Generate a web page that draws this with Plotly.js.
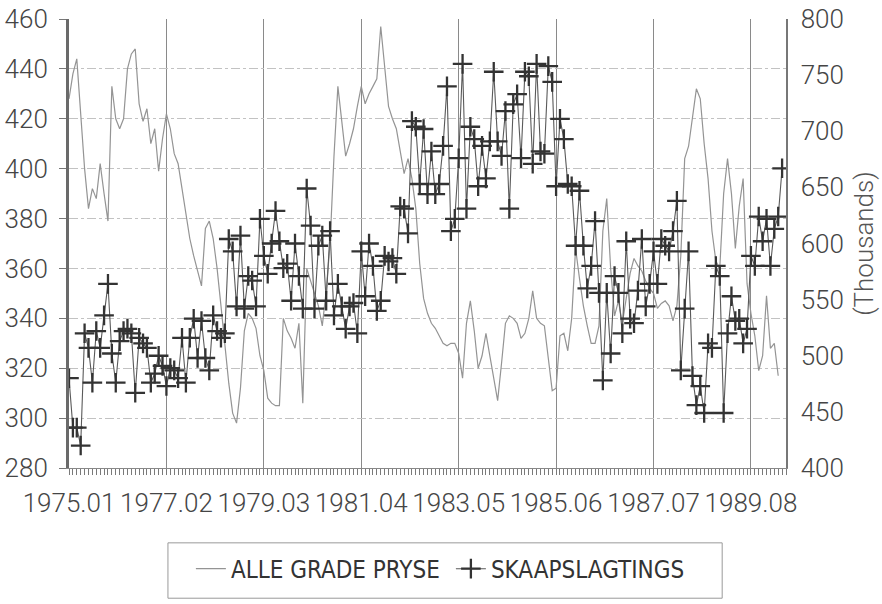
<!DOCTYPE html>
<html><head><meta charset="utf-8">
<script src="https://cdn.plot.ly/plotly-3.0.1.min.js"></script>
<style>html,body{margin:0;padding:0;background:#fff;} #chart{width:882px;height:604px;}</style>
</head><body><div id="chart"></div>
<script>
// Monthly periods 1975.01 ... (184 months)
const startYear = 1975;
const monthCount = 184;
const periods = [];
for (let i = 0; i < monthCount; i++) {
  const y = startYear + Math.floor(i / 12), m = i % 12 + 1;
  periods.push(y + '.' + String(m).padStart(2, '0'));
}
const tickLabels = ['1975.01','1977.02','1979.03','1981.04','1983.05','1985.06','1987.07','1989.08'];

// ALLE GRADE PRYSE (left axis)
const allePryse = [
 428,438,444,420,400,384,392,388,402,390,
 379,433,420,416,420,440,446,448,426,419,
 424,410,416,399,412,422,416,406,402,392,
 382,372,365,359,353,376,379,372,360,345,
 330,314,302,298,312,335,342,340,336,325,
 319,308,306,305,305,340,335,332,328,338,
 306,360,355,350,345,337,351,370,405,433,
 420,405,410,416,425,433,426,430,433,436,
 457,440,425,420,416,407,398,404,396,384,
 362,348,342,338,336,333,330,329,330,330,
 326,316,338,347,335,320,325,334,325,316,
 307,322,338,341,340,338,332,334,340,351,
 340,338,337,324,311,312,333,334,327,340,
 368,356,345,337,330,330,337,375,388,360,
 341,347,338,348,358,364,361,359,355,352,
 350,344,346,347,345,339,345,365,404,409,
 420,432,428,410,396,375,363,360,390,404,
 390,368,385,396,354,342,333,319,325,349,
 328,330,317
];

// SKAAPSLAGTINGS (right axis, thousands)
const skaapSlagtings = [
 480,436,436,420,520,507,476,522,507,536,
 564,502,476,513,522,524,520,467,516,511,
 507,476,484,500,491,473,489,487,480,516,
 476,516,533,498,531,498,487,536,522,516,
 520,604,593,544,607,542,571,567,544,622,
 589,573,600,629,602,578,582,549,600,571,
 542,649,616,542,598,607,549,611,536,564,
 544,524,544,547,520,593,553,600,580,540,
 549,589,584,587,573,633,631,609,709,704,
 653,702,644,682,644,653,687,740,611,622,
 676,760,631,704,693,651,687,658,691,753,
 691,678,718,631,724,733,676,753,749,671,
 760,682,680,758,744,651,711,693,653,651,
 598,647,598,560,580,620,556,478,556,502,
 571,556,520,602,533,529,558,604,544,564,
 593,564,604,598,593,611,638,487,542,593,
 482,456,473,449,511,507,580,571,449,520,
 553,531,533,511,524,589,580,624,602,622,
 580,613,624,667
];

const xIdx = periods.map((_, i) => i);
const tickVals = tickLabels.map(l => periods.indexOf(l));

const tickFont = {family: 'Roboto, Liberation Sans, sans-serif', size: 26, color: '#454545', weight: 300};

const data = [
  {x: xIdx.slice(0, allePryse.length), y: allePryse, name: 'ALLE GRADE PRYSE', type: 'scatter', mode: 'lines',
   line: {color: '#949494', width: 1.2}, yaxis: 'y'},
  {x: xIdx, y: skaapSlagtings, name: 'SKAAPSLAGTINGS', type: 'scatter', mode: 'lines+markers',
   line: {color: '#5a5a5a', width: 1.1},
   marker: {symbol: 'cross-thin', size: 14, color: '#333', line: {width: 2.3, color: '#333'}}, yaxis: 'y2'},
  // carrier for the monthly tick marks along the bottom axis (no visible marks)
  {x: [0, monthCount], y: [280, 280], xaxis: 'x2', yaxis: 'y', mode: 'lines', line: {width: 0, color: 'rgba(0,0,0,0)'},
   showlegend: false, hoverinfo: 'skip'}
];

const layout = {
  width: 882, height: 604,
  margin: {l: 69, r: 96, t: 19, b: 123},
  paper_bgcolor: '#fff', plot_bgcolor: '#fff',
  font: tickFont,
  showlegend: true,
  xaxis: {
    range: [0, 184], tickmode: 'array', tickvals: tickVals, ticktext: tickLabels, tickangle: 0,
    ticks: 'outside', ticklen: 6, tickcolor: '#777',
    showgrid: true, gridcolor: '#8a8a8a', gridwidth: 1, zeroline: false,
    showline: true, linecolor: '#888', linewidth: 1,
    tickfont: tickFont, ticklabelstandoff: 6
  },
  xaxis2: {
    overlaying: 'x', anchor: 'y', side: 'bottom', range: [0, 184], tickmode: 'linear', tick0: 0, dtick: 1,
    ticks: 'outside', ticklen: 6, tickcolor: '#7a7a7a', tickwidth: 1, showticklabels: false,
    showgrid: false, zeroline: false, showline: false
  },
  yaxis: {
    range: [280, 460], tick0: 280, dtick: 20, ticks: 'outside', ticklen: 7, tickcolor: '#777',
    showgrid: true, gridcolor: '#c2c2c2', griddash: 'dashdot', gridwidth: 1,
    showline: true, linecolor: '#6a6a6a', linewidth: 3, zeroline: false,
    tickfont: tickFont, ticklabelstandoff: 6
  },
  yaxis2: {
    overlaying: 'y', side: 'right', range: [400, 800], tick0: 400, dtick: 50,
    showgrid: false, showline: true, linecolor: '#777', linewidth: 1.5, ticks: '', zeroline: false,
    tickfont: tickFont, ticklabelstandoff: 8,
    title: {text: '(Thousands)', font: {family: 'Roboto, Liberation Sans, sans-serif', size: 26, color: '#555', weight: 300}, standoff: 12}
  },
  legend: {
    orientation: 'h', x: 0.17, xanchor: 'left', y: -0.175, yanchor: 'top',
    bgcolor: 'rgba(0,0,0,0)', borderwidth: 0,
    font: {family: 'Liberation Sans Narrow, DejaVu Sans Condensed, sans-serif', size: 24, color: '#333'},
    entrywidth: 215, entrywidthmode: 'pixels'
  },
  shapes: [
    {type: 'rect', xref: 'paper', yref: 'paper', x0: 0.138, x1: 0.911, y0: -0.1667, y1: -0.29,
     line: {color: '#999', width: 1}, fillcolor: 'rgba(0,0,0,0)'}
  ]
};

Plotly.newPlot('chart', data, layout, {displayModeBar: false, staticPlot: true});
</script>
</body></html>
